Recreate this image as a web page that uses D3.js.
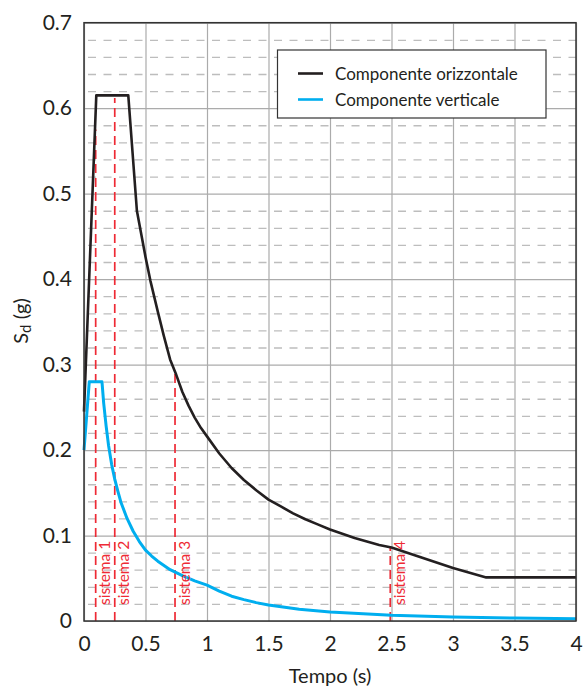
<!DOCTYPE html>
<html>
<head>
<meta charset="utf-8">
<script src="https://cdn.jsdelivr.net/npm/d3@7"></script>
<style>
  html, body { margin: 0; padding: 0; background: #fff; }
  svg { display: block; font-family: Lato, "DejaVu Sans", sans-serif; }
</style>
</head>
<body>
<svg id="chart" width="584" height="688"></svg>
<script>
// Spettro di progetto: periodo T (s) e accelerazione spettrale Sd (g)
const orizT  = [0, 0.1, 0.36, 0.43, 0.5, 0.54, 0.6, 0.65, 0.7, 0.75, 0.8, 0.85, 0.9, 0.95, 1.0, 1.1, 1.2, 1.3, 1.4, 1.5, 1.6, 1.7, 1.8, 1.9, 2.0, 2.1, 2.2, 2.3, 2.4, 2.5, 2.75, 3.0, 3.27, 4.0];
const orizSd = [0.245, 0.615, 0.615, 0.48, 0.426, 0.398, 0.362, 0.333, 0.306, 0.288, 0.268, 0.252, 0.238, 0.226, 0.216, 0.196, 0.179, 0.165, 0.153, 0.142, 0.134, 0.126, 0.119, 0.113, 0.107, 0.102, 0.097, 0.093, 0.089, 0.086, 0.074, 0.062, 0.051, 0.051];

const vertT  = [0, 0.043, 0.146, 0.16, 0.18, 0.2, 0.225, 0.25, 0.275, 0.3, 0.35, 0.4, 0.45, 0.5, 0.55, 0.6, 0.7, 0.8, 0.9, 1.0, 1.1, 1.2, 1.3, 1.4, 1.5, 1.75, 2.0, 2.5, 3.0, 3.5, 4.0];
const vertSd = [0.2, 0.28, 0.28, 0.255, 0.228, 0.205, 0.183, 0.166, 0.152, 0.139, 0.12, 0.105, 0.093, 0.083, 0.076, 0.07, 0.06, 0.053, 0.047, 0.042, 0.035, 0.029, 0.025, 0.0215, 0.0187, 0.0137, 0.0105, 0.0067, 0.0047, 0.0034, 0.0026];

// Periodi propri dei sistemi analizzati
const sistemiNome = ["sistema 1", "sistema 2", "sistema 3", "sistema 4"];
const sistemiT    = [0.095, 0.25, 0.74, 2.49];
const sistemiSd   = [0.575, 0.612, 0.29, 0.087];

const xTicks = [0, 0.5, 1, 1.5, 2, 2.5, 3, 3.5, 4];
const xTickLabels = ["0", "0.5", "1", "1.5", "2", "2.5", "3", "3.5", "4"];
const yTicks = [0, 0.1, 0.2, 0.3, 0.4, 0.5, 0.6, 0.7];
const yTickLabels = ["0", "0.1", "0.2", "0.3", "0.4", "0.5", "0.6", "0.7"];
const yMinor = d3.range(1, 35).map(i => i * 0.02).filter(v => Math.abs(v * 10 - Math.round(v * 10)) > 1e-6);

const legendNames = ["Componente orizzontale", "Componente verticale"];
const colOriz = "#231f20", colVert = "#00aeef", colRed = "#ee2a35", colText = "#231f20";

const svg = d3.select("#chart");
const pLeft = 84, pRight = 576, pTop = 22.7, pBottom = 621;
const w = pRight - pLeft, h = pBottom - pTop;

const x = d3.scaleLinear().domain([0, 4]).range([pLeft, pRight]);
const y = d3.scaleLinear().domain([0, 0.7]).range([pBottom, pTop]);

// griglia secondaria tratteggiata
svg.append("g")
  .attr("transform", `translate(${pLeft},0)`)
  .call(d3.axisLeft(y).tickValues(yMinor).tickSize(-w).tickFormat(""))
  .call(g => g.select(".domain").remove())
  .call(g => g.selectAll("line").attr("stroke", "#bdbdbd").attr("stroke-width", 1.3)
    .attr("stroke-dasharray", "8,7.5").attr("stroke-dashoffset", -4));

// griglia principale
svg.append("g")
  .attr("transform", `translate(${pLeft},0)`)
  .call(d3.axisLeft(y).tickValues(yTicks).tickSize(-w).tickFormat(""))
  .call(g => g.select(".domain").remove())
  .call(g => g.selectAll("line").attr("stroke", "#ababab").attr("stroke-width", 1.2));
svg.append("g")
  .attr("transform", `translate(0,${pBottom})`)
  .call(d3.axisBottom(x).tickValues(xTicks).tickSize(-h).tickFormat(""))
  .call(g => g.select(".domain").remove())
  .call(g => g.selectAll("line").attr("stroke", "#ababab").attr("stroke-width", 1.2));

// linee dei periodi dei sistemi
svg.append("g").selectAll("line")
  .data(sistemiT)
  .join("line")
  .attr("x1", d => x(d)).attr("x2", d => x(d))
  .attr("y1", y(0)).attr("y2", (d, i) => y(sistemiSd[i]))
  .attr("stroke", colRed).attr("stroke-width", 1.7)
  .attr("stroke-dasharray", "9,5");

// curve spettrali
const line = d3.line().x(d => x(d[0])).y(d => y(d[1]));
svg.append("path")
  .datum(vertT.map((t, i) => [t, vertSd[i]]))
  .attr("d", line).attr("fill", "none")
  .attr("stroke", colVert).attr("stroke-width", 3).attr("stroke-linejoin", "round");
svg.append("path")
  .datum(orizT.map((t, i) => [t, orizSd[i]]))
  .attr("d", line).attr("fill", "none")
  .attr("stroke", colOriz).attr("stroke-width", 2.6).attr("stroke-linejoin", "round");

// etichette dei sistemi
svg.append("g").selectAll("text")
  .data(sistemiT)
  .join("text")
  .attr("transform", d => `translate(${x(d) + 14.5},605) rotate(-90)`)
  .attr("fill", colRed).attr("font-size", 15.5)
  .text((d, i) => sistemiNome[i]);

// cornice
svg.append("rect")
  .attr("x", pLeft).attr("y", pTop).attr("width", w).attr("height", h)
  .attr("fill", "none").attr("stroke", "#333").attr("stroke-width", 1.5);

// etichette degli assi
svg.append("g")
  .attr("transform", `translate(${pLeft},0)`)
  .call(d3.axisLeft(y).tickValues(yTicks).tickSize(0).tickPadding(12)
    .tickFormat((d, i) => yTickLabels[i]))
  .call(g => g.select(".domain").remove())
  .call(g => g.selectAll("text").attr("font-size", 21).attr("fill", colText)
    .attr("font-family", "Lato, sans-serif"));
svg.append("g")
  .attr("transform", `translate(0,${pBottom})`)
  .call(d3.axisBottom(x).tickValues(xTicks).tickSize(0).tickPadding(15)
    .tickFormat((d, i) => xTickLabels[i]))
  .call(g => g.select(".domain").remove())
  .call(g => g.selectAll("text").attr("font-size", 21).attr("fill", colText)
    .attr("font-family", "Lato, sans-serif"));

svg.append("text")
  .attr("x", (pLeft + pRight) / 2).attr("y", 683)
  .attr("text-anchor", "middle").attr("font-size", 20).attr("fill", colText)
  .text("Tempo (s)");

const yt = svg.append("text")
  .attr("transform", "translate(28,321) rotate(-90)")
  .attr("text-anchor", "middle").attr("font-size", 20).attr("fill", colText);
yt.append("tspan").text("S");
yt.append("tspan").attr("font-size", 15).attr("dy", 3).text("d");
yt.append("tspan").attr("dy", -3).text(" (g)");

// legenda
const leg = svg.append("g");
leg.append("rect")
  .attr("x", 277.5).attr("y", 50).attr("width", 268.5).attr("height", 68)
  .attr("fill", "#fff").attr("stroke", "#333").attr("stroke-width", 1.2);
const legRows = leg.selectAll("g.row")
  .data(legendNames)
  .join("g").attr("class", "row")
  .attr("transform", (d, i) => `translate(0,${73.5 + i * 26})`);
legRows.append("line")
  .attr("x1", 298).attr("x2", 323).attr("y1", 0).attr("y2", 0)
  .attr("stroke", (d, i) => i === 0 ? colOriz : colVert).attr("stroke-width", 2.6);
legRows.append("text")
  .attr("x", 335).attr("y", 6).attr("font-size", 17).attr("fill", colText)
  .text(d => d);
</script>
</body>
</html>
